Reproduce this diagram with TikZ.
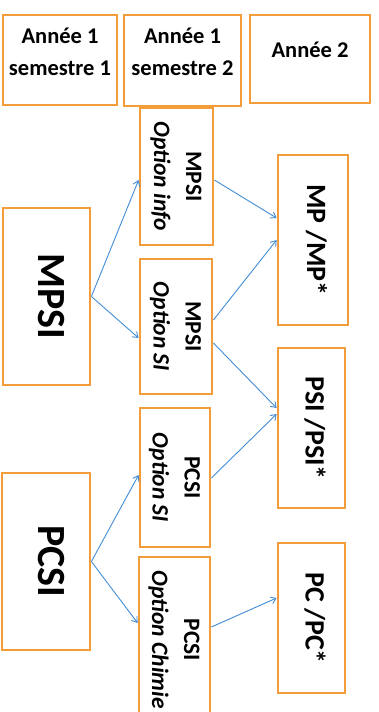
\documentclass[tikz,border=0pt]{standalone}
\usepackage{fontspec}
\setmainfont{Carlito}
\usepackage{graphicx}
\usetikzlibrary{arrows.meta}
\usepackage{xcolor}
\definecolor{boxorange}{RGB}{243,156,58}
\definecolor{linkblue}{RGB}{66,140,214}
\newcommand{\vtext}[1]{\rotatebox{-90}{\begin{tabular}{@{}c@{}}#1\end{tabular}}}
\newcommand{\htext}[2][7pt]{\raisebox{#1}[\height][\depth]{\begin{tabular}{@{}c@{}}#2\end{tabular}}}

\begin{document}
\begin{tikzpicture}[x=1pt, y=-1pt,
  box/.style={draw=boxorange, line width=2.8pt, fill=white, inner sep=0pt, align=center},
  head/.style={box, font={\bfseries\fontsize{22.5}{32}\selectfont}},
  first/.style={box, font={\bfseries\fontsize{40}{40}\selectfont}},
  second/.style={box, font={\bfseries\fontsize{23.5}{32}\selectfont}},
  final/.style={box, font={\bfseries\fontsize{28}{28}\selectfont}},
  link/.style={draw=linkblue, line width=0.9pt, -{Straight Barb[length=5pt, width=7pt]}}]
\useasboundingbox (0,0) rectangle (378,712);
% header
\node[head, minimum width=114pt, minimum height=90pt] (sem1) at (60,60) {\htext{Année 1\\semestre 1}};
\node[head, minimum width=117pt, minimum height=91pt] (sem2) at (182.5,60.5) {\htext{Année 1\\semestre 2}};
\node[head, minimum width=120pt, minimum height=88pt] (year2) at (310,59) {\htext[8pt]{Année 2}};
% first semester
\node[first, minimum width=87pt, minimum height=177pt] (mpsi) at (46.5,296.5) {\vtext{MPSI}};
\node[first, minimum width=88pt, minimum height=177pt] (pcsi) at (46,561.5) {\vtext{PCSI}};
% second semester
\node[second, minimum width=73pt, minimum height=137pt] (info) at (176.5,176.5) {\vtext{MPSI\\\textit{Option info}}};
\node[second, minimum width=72pt, minimum height=135pt] (msi) at (176,326.5) {\vtext{MPSI\\\textit{Option SI}}};
\node[second, minimum width=70pt, minimum height=139pt] (pcsisi) at (175,477.5) {\vtext{PCSI\\\textit{Option SI}}};
\node[second, minimum width=71pt, minimum height=166pt] (chimie) at (174.5,640) {\vtext{PCSI\\\textit{Option Chimie}}};
% second year
\node[final, minimum width=70pt, minimum height=170pt] (mp) at (313,240) {\vtext{MP /MP*}};
\node[final, minimum width=67pt, minimum height=160pt] (psi) at (311.5,428) {\vtext{PSI /PSI*}};
\node[final, minimum width=67pt, minimum height=150pt] (pc) at (311.5,618) {\vtext{PC /PC*}};
% links
\draw[link] (mpsi.east) -- ([yshift=-3.5pt]info.west);
\draw[link] (mpsi.east) -- ([yshift=-11.5pt]msi.west);
\draw[link] ([yshift=-3.5pt]info.east) -- ([yshift=22pt]mp.west);
\draw[link] ([yshift=6.5pt]msi.east) -- (mp.west);
\draw[link] ([yshift=-16.5pt]msi.east) -- ([yshift=20pt]psi.west);
\draw[link] ([yshift=-0.5pt]pcsisi.east) -- ([yshift=14pt]psi.west);
\draw[link] ([yshift=13pt]chimie.east) -- ([yshift=20pt]pc.west);
\draw[link] (pcsi.east) -- ([yshift=2.5pt]pcsisi.west);
\draw[link] (pcsi.east) -- ([yshift=17pt]chimie.west);
\end{tikzpicture}
\end{document}
